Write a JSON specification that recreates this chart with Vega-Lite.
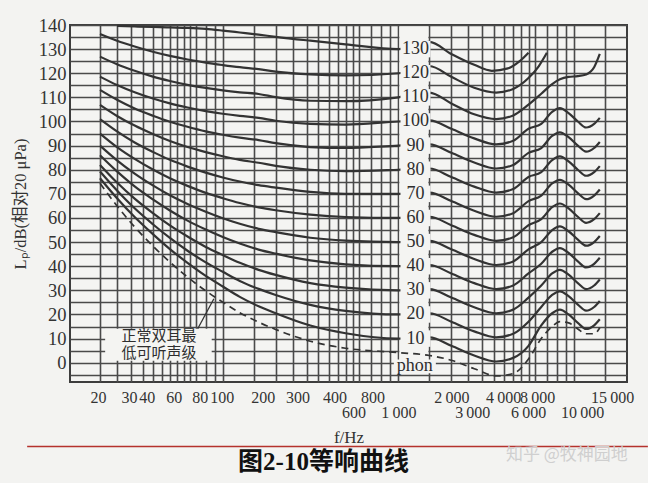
{
  "$schema": "https://vega.github.io/schema/vega-lite/v6.json",
  "width": 557,
  "height": 357,
  "autosize": "none",
  "padding": {"left": 70, "top": 25, "right": 21, "bottom": 101},
  "background": "#f3f3f1",
  "view": {"fill": "#f4f4f2", "stroke": "#3d3d3d", "strokeWidth": 2},
  "title": {
    "text": "图2-10等响曲线",
    "orient": "bottom",
    "anchor": "middle",
    "dx": -25,
    "offset": -13,
    "font": "Liberation Serif, Noto Sans CJK SC",
    "fontSize": 25,
    "fontWeight": "bold",
    "color": "#111"
  },
  "datasets": {
    "anchor": [{"f": 1000, "db": 50}],
    "curves": [
      {"phon":10,"f":20,"db":76.5},{"phon":10,"f":25,"db":68.2},{"phon":10,"f":31.5,"db":60.4},{"phon":10,"f":40,"db":53.3},{"phon":10,"f":50,"db":47.1},{"phon":10,"f":63,"db":41.4},{"phon":10,"f":80,"db":36},{"phon":10,"f":100,"db":31.6},{"phon":10,"f":125,"db":27.3},{"phon":10,"f":160,"db":23.4},{"phon":10,"f":200,"db":20.5},{"phon":10,"f":315,"db":15.4},{"phon":10,"f":500,"db":12.2},{"phon":10,"f":1000,"db":10},
      {"phon":10,"f":1500,"db":10.5},{"phon":10,"f":2000,"db":7},{"phon":10,"f":2700,"db":3},{"phon":10,"f":3600,"db":0.5},{"phon":10,"f":4500,"db":2},{"phon":10,"f":5500,"db":7},{"phon":10,"f":6500,"db":15.5},{"phon":10,"f":7500,"db":20.5},{"phon":10,"f":8300,"db":22},{"phon":10,"f":9300,"db":20},{"phon":10,"f":10500,"db":16.5},{"phon":10,"f":11700,"db":14},{"phon":10,"f":13000,"db":15.5},{"phon":10,"f":14000,"db":18},

      {"phon":20,"f":20,"db":79.3},{"phon":20,"f":25,"db":71.4},{"phon":20,"f":31.5,"db":64},{"phon":20,"f":40,"db":57.4},{"phon":20,"f":50,"db":51.7},{"phon":20,"f":63,"db":46.4},{"phon":20,"f":80,"db":41.6},{"phon":20,"f":100,"db":37.7},{"phon":20,"f":125,"db":33.9},{"phon":20,"f":160,"db":30.6},{"phon":20,"f":200,"db":28.1},{"phon":20,"f":315,"db":24},{"phon":20,"f":500,"db":21.5},{"phon":20,"f":1000,"db":20},
      {"phon":20,"f":1500,"db":20.5},{"phon":20,"f":2000,"db":17},{"phon":20,"f":2700,"db":13},{"phon":20,"f":3600,"db":10.5},{"phon":20,"f":4500,"db":12},{"phon":20,"f":5500,"db":17},{"phon":20,"f":6500,"db":23.1},{"phon":20,"f":7500,"db":28.1},{"phon":20,"f":8300,"db":29.6},{"phon":20,"f":9300,"db":27.6},{"phon":20,"f":10500,"db":24.1},{"phon":20,"f":11700,"db":21.6},{"phon":20,"f":13000,"db":23.1},{"phon":20,"f":14000,"db":25.6},

      {"phon":30,"f":20,"db":82},{"phon":30,"f":25,"db":74.7},{"phon":30,"f":31.5,"db":68},{"phon":30,"f":40,"db":62},{"phon":30,"f":50,"db":56.9},{"phon":30,"f":63,"db":52.3},{"phon":30,"f":80,"db":48},{"phon":30,"f":100,"db":44.6},{"phon":30,"f":125,"db":41.4},{"phon":30,"f":160,"db":38.5},{"phon":30,"f":200,"db":36.4},{"phon":30,"f":315,"db":33},{"phon":30,"f":500,"db":31.1},{"phon":30,"f":1000,"db":30},
      {"phon":30,"f":1500,"db":30.5},{"phon":30,"f":2000,"db":27},{"phon":30,"f":2700,"db":23},{"phon":30,"f":3600,"db":20.5},{"phon":30,"f":4500,"db":22},{"phon":30,"f":5500,"db":27},{"phon":30,"f":6500,"db":32},{"phon":30,"f":7500,"db":37},{"phon":30,"f":8300,"db":38.5},{"phon":30,"f":9300,"db":36.5},{"phon":30,"f":10500,"db":33},{"phon":30,"f":11700,"db":30.5},{"phon":30,"f":13000,"db":32},{"phon":30,"f":14000,"db":34.5},

      {"phon":40,"f":20,"db":86},{"phon":40,"f":25,"db":79.3},{"phon":40,"f":31.5,"db":73.1},{"phon":40,"f":40,"db":67.7},{"phon":40,"f":50,"db":63.1},{"phon":40,"f":63,"db":58.9},{"phon":40,"f":80,"db":55.2},{"phon":40,"f":100,"db":52.1},{"phon":40,"f":125,"db":49.4},{"phon":40,"f":160,"db":46.9},{"phon":40,"f":200,"db":45.2},{"phon":40,"f":315,"db":42.4},{"phon":40,"f":500,"db":40.8},{"phon":40,"f":1000,"db":40},
      {"phon":40,"f":1500,"db":40.5},{"phon":40,"f":2000,"db":37},{"phon":40,"f":2700,"db":33},{"phon":40,"f":3600,"db":30.5},{"phon":40,"f":4500,"db":32},{"phon":40,"f":5500,"db":37},{"phon":40,"f":6500,"db":41},{"phon":40,"f":7500,"db":46},{"phon":40,"f":8300,"db":47.5},{"phon":40,"f":9300,"db":45.5},{"phon":40,"f":10500,"db":42},{"phon":40,"f":11700,"db":39.5},{"phon":40,"f":13000,"db":41},{"phon":40,"f":14000,"db":43.5},

      {"phon":50,"f":20,"db":90},{"phon":50,"f":25,"db":83.9},{"phon":50,"f":31.5,"db":78.4},{"phon":50,"f":40,"db":73.5},{"phon":50,"f":50,"db":69.4},{"phon":50,"f":63,"db":65.8},{"phon":50,"f":80,"db":62.6},{"phon":50,"f":100,"db":59.9},{"phon":50,"f":125,"db":57.6},{"phon":50,"f":160,"db":55.5},{"phon":50,"f":200,"db":54.1},{"phon":50,"f":315,"db":51.8},{"phon":50,"f":500,"db":50.6},{"phon":50,"f":1000,"db":50},
      {"phon":50,"f":1500,"db":50.5},{"phon":50,"f":2000,"db":47},{"phon":50,"f":2700,"db":43},{"phon":50,"f":3600,"db":40.5},{"phon":50,"f":4500,"db":42},{"phon":50,"f":5500,"db":47},{"phon":50,"f":6500,"db":50},{"phon":50,"f":7500,"db":55},{"phon":50,"f":8300,"db":56.5},{"phon":50,"f":9300,"db":54.5},{"phon":50,"f":10500,"db":51},{"phon":50,"f":11700,"db":48.5},{"phon":50,"f":13000,"db":50},{"phon":50,"f":14000,"db":52.5},

      {"phon":60,"f":20,"db":95},{"phon":60,"f":25,"db":89.4},{"phon":60,"f":31.5,"db":84.5},{"phon":60,"f":40,"db":80.1},{"phon":60,"f":50,"db":76.5},{"phon":60,"f":63,"db":73.3},{"phon":60,"f":80,"db":70.4},{"phon":60,"f":100,"db":68.2},{"phon":60,"f":125,"db":66.2},{"phon":60,"f":160,"db":64.4},{"phon":60,"f":200,"db":63.2},{"phon":60,"f":315,"db":61.4},{"phon":60,"f":500,"db":60.4},{"phon":60,"f":1000,"db":60},
      {"phon":60,"f":1500,"db":60.5},{"phon":60,"f":2000,"db":57},{"phon":60,"f":2700,"db":53},{"phon":60,"f":3600,"db":50.5},{"phon":60,"f":4500,"db":52},{"phon":60,"f":5500,"db":57},{"phon":60,"f":6500,"db":59.5},{"phon":60,"f":7500,"db":64.5},{"phon":60,"f":8300,"db":66},{"phon":60,"f":9300,"db":64},{"phon":60,"f":10500,"db":60.5},{"phon":60,"f":11700,"db":58},{"phon":60,"f":13000,"db":59.5},{"phon":60,"f":14000,"db":62},

      {"phon":70,"f":20,"db":101},{"phon":70,"f":25,"db":95.9},{"phon":70,"f":31.5,"db":91.3},{"phon":70,"f":40,"db":87.4},{"phon":70,"f":50,"db":84.1},{"phon":70,"f":63,"db":81.3},{"phon":70,"f":80,"db":78.8},{"phon":70,"f":100,"db":76.8},{"phon":70,"f":125,"db":75.1},{"phon":70,"f":160,"db":73.6},{"phon":70,"f":200,"db":72.6},{"phon":70,"f":315,"db":70.8},{"phon":70,"f":500,"db":70},{"phon":70,"f":1000,"db":70},
      {"phon":70,"f":1500,"db":70.5},{"phon":70,"f":2000,"db":67},{"phon":70,"f":2700,"db":63},{"phon":70,"f":3600,"db":60.5},{"phon":70,"f":4500,"db":62},{"phon":70,"f":5500,"db":67},{"phon":70,"f":6500,"db":69.3},{"phon":70,"f":7500,"db":74.3},{"phon":70,"f":8300,"db":75.8},{"phon":70,"f":9300,"db":73.8},{"phon":70,"f":10500,"db":70.3},{"phon":70,"f":11700,"db":67.8},{"phon":70,"f":13000,"db":69.3},{"phon":70,"f":14000,"db":71.8},

      {"phon":80,"f":20,"db":106.9},{"phon":80,"f":25,"db":102.3},{"phon":80,"f":31.5,"db":98.3},{"phon":80,"f":40,"db":94.8},{"phon":80,"f":50,"db":91.9},{"phon":80,"f":63,"db":89.4},{"phon":80,"f":80,"db":87.3},{"phon":80,"f":100,"db":85.6},{"phon":80,"f":125,"db":84.1},{"phon":80,"f":160,"db":82.9},{"phon":80,"f":200,"db":81.6},{"phon":80,"f":315,"db":80},{"phon":80,"f":500,"db":79.4},{"phon":80,"f":1000,"db":80},
      {"phon":80,"f":1500,"db":80.5},{"phon":80,"f":2000,"db":77},{"phon":80,"f":2700,"db":73},{"phon":80,"f":3600,"db":70.5},{"phon":80,"f":4500,"db":72},{"phon":80,"f":5500,"db":77},{"phon":80,"f":6500,"db":79},{"phon":80,"f":7500,"db":84},{"phon":80,"f":8300,"db":85.5},{"phon":80,"f":9300,"db":83.5},{"phon":80,"f":10500,"db":80},{"phon":80,"f":11700,"db":77.5},{"phon":80,"f":13000,"db":79},{"phon":80,"f":14000,"db":81.5},

      {"phon":90,"f":20,"db":113.1},{"phon":90,"f":25,"db":109},{"phon":90,"f":31.5,"db":105.4},{"phon":90,"f":40,"db":102.4},{"phon":90,"f":50,"db":99.9},{"phon":90,"f":63,"db":97.8},{"phon":90,"f":80,"db":95.9},{"phon":90,"f":100,"db":94.5},{"phon":90,"f":125,"db":93.3},{"phon":90,"f":160,"db":92.3},{"phon":90,"f":200,"db":91},{"phon":90,"f":315,"db":89.4},{"phon":90,"f":500,"db":89},{"phon":90,"f":1000,"db":90},
      {"phon":90,"f":1500,"db":90.5},{"phon":90,"f":2000,"db":87},{"phon":90,"f":2700,"db":83},{"phon":90,"f":3600,"db":80.5},{"phon":90,"f":4500,"db":82},{"phon":90,"f":5500,"db":87},{"phon":90,"f":6500,"db":89},{"phon":90,"f":7500,"db":94},{"phon":90,"f":8300,"db":95.5},{"phon":90,"f":9300,"db":93.5},{"phon":90,"f":10500,"db":90},{"phon":90,"f":11700,"db":87.5},{"phon":90,"f":13000,"db":89},{"phon":90,"f":14000,"db":91.5},

      {"phon":100,"f":20,"db":118.6},{"phon":100,"f":25,"db":115.1},{"phon":100,"f":31.5,"db":112.1},{"phon":100,"f":40,"db":109.5},{"phon":100,"f":50,"db":107.5},{"phon":100,"f":63,"db":105.8},{"phon":100,"f":80,"db":104.3},{"phon":100,"f":100,"db":103.2},{"phon":100,"f":125,"db":102.3},{"phon":100,"f":160,"db":101.5},{"phon":100,"f":200,"db":100.3},{"phon":100,"f":315,"db":99},{"phon":100,"f":500,"db":98.7},{"phon":100,"f":1000,"db":100},
      {"phon":100,"f":1500,"db":100.5},{"phon":100,"f":2000,"db":97},{"phon":100,"f":2700,"db":93},{"phon":100,"f":3600,"db":90.5},{"phon":100,"f":4500,"db":92},{"phon":100,"f":5500,"db":97},{"phon":100,"f":6500,"db":99},{"phon":100,"f":7500,"db":104},{"phon":100,"f":8300,"db":105.5},{"phon":100,"f":9300,"db":103.5},{"phon":100,"f":10500,"db":100},{"phon":100,"f":11700,"db":97.5},{"phon":100,"f":13000,"db":99},{"phon":100,"f":14000,"db":101.5},

      {"phon":110,"f":20,"db":126.9},{"phon":110,"f":25,"db":123.7},{"phon":110,"f":31.5,"db":121},{"phon":110,"f":40,"db":118.6},{"phon":110,"f":50,"db":116.8},{"phon":110,"f":63,"db":115.2},{"phon":110,"f":80,"db":113.9},{"phon":110,"f":100,"db":112.9},{"phon":110,"f":125,"db":112.1},{"phon":110,"f":160,"db":111.4},{"phon":110,"f":200,"db":110.1},{"phon":110,"f":315,"db":108.6},{"phon":110,"f":500,"db":108.4},{"phon":110,"f":1000,"db":110},
      {"phon":110,"f":1500,"db":112},{"phon":110,"f":2000,"db":107.5},{"phon":110,"f":2700,"db":103},{"phon":110,"f":3600,"db":101},{"phon":110,"f":4500,"db":102.5},{"phon":110,"f":5500,"db":107},{"phon":110,"f":6500,"db":111.5},{"phon":110,"f":7500,"db":115.5},{"phon":110,"f":8300,"db":117.5},{"phon":110,"f":9300,"db":118.5},{"phon":110,"f":10500,"db":118.8},{"phon":110,"f":11700,"db":119.5},{"phon":110,"f":13000,"db":122.5},{"phon":110,"f":14000,"db":128},

      {"phon":120,"f":20,"db":136.3},{"phon":120,"f":25,"db":133.5},{"phon":120,"f":31.5,"db":131.1},{"phon":120,"f":40,"db":128.9},{"phon":120,"f":50,"db":127.2},{"phon":120,"f":63,"db":125.7},{"phon":120,"f":80,"db":124.4},{"phon":120,"f":100,"db":123.4},{"phon":120,"f":125,"db":122.5},{"phon":120,"f":160,"db":121.7},{"phon":120,"f":200,"db":120.7},{"phon":120,"f":315,"db":119.5},{"phon":120,"f":500,"db":119.1},{"phon":120,"f":1000,"db":120},
      {"phon":120,"f":1500,"db":123},{"phon":120,"f":2000,"db":118.5},{"phon":120,"f":2700,"db":114},{"phon":120,"f":3600,"db":112},{"phon":120,"f":4500,"db":113.5},{"phon":120,"f":5500,"db":118},{"phon":120,"f":6300,"db":123},{"phon":120,"f":7000,"db":128.5},

      {"phon":130,"f":25,"db":139.6},{"phon":130,"f":31.5,"db":139.4},{"phon":130,"f":40,"db":139.2},{"phon":130,"f":50,"db":139},{"phon":130,"f":63,"db":138.8},{"phon":130,"f":80,"db":138.4},{"phon":130,"f":100,"db":137.7},{"phon":130,"f":125,"db":136.9},{"phon":130,"f":160,"db":136},{"phon":130,"f":200,"db":135.1},{"phon":130,"f":315,"db":133.5},{"phon":130,"f":500,"db":132},{"phon":130,"f":1000,"db":130},
      {"phon":130,"f":1500,"db":133},{"phon":130,"f":2000,"db":128},{"phon":130,"f":2700,"db":123.5},{"phon":130,"f":3400,"db":121},{"phon":130,"f":4200,"db":122},{"phon":130,"f":4900,"db":125},{"phon":130,"f":5500,"db":128.5}
    ],
    "threshold": [
      {"f":20,"db":74.4},{"f":25,"db":65},{"f":31.5,"db":56.3},{"f":40,"db":48.4},{"f":50,"db":41.7},{"f":63,"db":35.5},{"f":80,"db":29.8},{"f":100,"db":25.1},{"f":125,"db":20.7},{"f":160,"db":16.8},{"f":200,"db":13.8},{"f":315,"db":8.9},{"f":500,"db":6},{"f":1000,"db":4.2},
      {"f":1500,"db":3},{"f":2000,"db":1},{"f":2700,"db":-2.5},{"f":3600,"db":-5.5},{"f":4500,"db":-4.5},{"f":5500,"db":1.5},{"f":6500,"db":10},{"f":7500,"db":15},{"f":8300,"db":17},{"f":9300,"db":16.5},{"f":10500,"db":14},{"f":11700,"db":12},{"f":13000,"db":12},{"f":14000,"db":14.5}
    ],
    "labels": [
      {"f":1250,"db":130,"t":"130"},{"f":1250,"db":120,"t":"120"},{"f":1250,"db":110,"t":"110"},{"f":1250,"db":100,"t":"100"},
      {"f":1250,"db":90,"t":"90"},{"f":1250,"db":80,"t":"80"},{"f":1250,"db":70,"t":"70"},{"f":1250,"db":60,"t":"60"},
      {"f":1250,"db":50,"t":"50"},{"f":1250,"db":40,"t":"40"},{"f":1250,"db":30,"t":"30"},{"f":1250,"db":20,"t":"20"},
      {"f":1250,"db":10,"t":"10"},{"f":1240,"db":-1.5,"t":"phon"}
    ],
    "note": [
      {"f":43.4,"db":11.1,"t":"正常双耳最"},
      {"f":43.4,"db":3.9,"t":"低可听声级"}
    ],
    "watermark": [
      {"f":9100,"db":-38.1,"t":"知乎 @牧神园地"}
    ]
  },
  "encoding": {
    "x": {
      "field": "f",
      "type": "quantitative",
      "scale": {"type": "log", "domain": [13.5, 20000], "nice": false},
      "axis": {
        "values": [20,25,30,35,40,45,50,55,60,65,70,80,90,100,150,200,250,300,350,400,450,500,550,600,700,800,900,1000,1500,2000,2500,3000,3500,4000,4500,5000,5500,6000,7000,8000,9000,10000,15000],
        "labelExpr": "indexof([20,30,40,60,80,100,200,300,400,600,800,1000,2000,3000,4000,6000,8000,10000,15000], datum.value) >= 0 ? replace(format(datum.value, ','), ',', '\u2009') : ''",
        "labelFontSize": 16,
        "labelPadding": 7,
        "labelOverlap": false,
        "labelFlush": false,
        "labelBound": false,
        "title": "f/Hz",
        "titleFontSize": 17,
        "titleY": 55,
        "titleBaseline": "middle",
        "encoding": {
          "labels": {
            "dx": {"value": {"expr": "datum.value==20?-2:datum.value==30?-2:datum.value==40?-6:datum.value==60?-10:datum.value==80?-6:datum.value==100?-1:datum.value==200?-13:datum.value==300?-9:datum.value==400?6:datum.value==600?-6:datum.value==800?-9:datum.value==3000?-10:datum.value==4000?-1:datum.value==6000?-7:datum.value==8000?-20:datum.value==10000?8:datum.value==15000?7:0"}},
            "dy": {"value": {"expr": "indexof([600,1000,3000,6000,10000], datum.value) >= 0 ? 15 : 0"}}
          }
        }
      }
    },
    "y": {
      "field": "db",
      "type": "quantitative",
      "scale": {"domain": [-8, 140], "nice": false, "zero": false},
      "axis": {
        "values": [-5,0,5,10,15,20,25,30,35,40,45,50,55,60,65,70,75,80,85,90,95,100,105,110,115,120,125,130,135,140],
        "labelExpr": "datum.value >= 0 && datum.value % 10 == 0 ? datum.value : ''",
        "labelFontSize": 18.5,
        "labelPadding": 4,
        "labelOverlap": false,
        "labelBound": false,
        "labelFlush": false,
        "title": "Lₚ/dB(相对20 μPa)",
        "titleFontSize": 16.5,
        "titleX": -50,
        "titleY": 178.5,
        "titleAngle": 270,
        "titleAlign": "center",
        "titleBaseline": "middle"
      }
    }
  },
  "layer": [
    {
      "data": {"name": "anchor"},
      "mark": {"type": "rect", "color": "#f4f4f2", "opacity": 1},
      "encoding": {
        "x": {"datum": 1012, "type": "quantitative"},
        "x2": {"datum": 1480},
        "y": {"datum": -4, "type": "quantitative"},
        "y2": {"datum": 139.4}
      }
    },
    {
      "data": {"name": "anchor"},
      "mark": {"type": "rect", "color": "#f4f4f2", "opacity": 1},
      "encoding": {
        "x": {"datum": 21.4, "type": "quantitative"},
        "x2": {"datum": 86.5},
        "y": {"datum": 0.8, "type": "quantitative"},
        "y2": {"datum": 14.1}
      }
    },
    {
      "data": {"name": "curves"},
      "mark": {"type": "line", "interpolate": "monotone", "color": "#333333", "strokeWidth": 2.2},
      "encoding": {"detail": {"field": "phon", "type": "nominal"}}
    },
    {
      "data": {"name": "threshold"},
      "mark": {"type": "line", "interpolate": "monotone", "color": "#333333", "strokeWidth": 1.7, "strokeDash": [7, 5]},
      "encoding": {}
    },
    {
      "data": {"name": "anchor"},
      "mark": {"type": "rule", "color": "#333333", "strokeWidth": 1.3},
      "encoding": {
        "x": {"datum": 72, "type": "quantitative"},
        "y": {"datum": 14.1, "type": "quantitative"},
        "x2": {"datum": 89},
        "y2": {"datum": 26.5}
      }
    },
    {
      "data": {"name": "labels"},
      "mark": {"type": "point", "filled": true, "color": "#f4f4f2", "opacity": 1},
      "encoding": {
        "shape": {"condition": {"test": "datum.t == 'phon'", "value": "M-1,-0.33L1,-0.33L1,0.33L-1,0.33Z"}, "value": "M-1,-0.55L1,-0.55L1,0.55L-1,0.55Z"},
        "size": {"condition": {"test": "datum.t == 'phon'", "value": 1764}, "value": 900}
      }
    },
    {
      "data": {"name": "labels"},
      "mark": {"type": "text", "font": "Liberation Serif", "fontSize": 18, "color": "#2e2e2e"},
      "encoding": {"text": {"field": "t", "type": "nominal"}}
    },
    {
      "data": {"name": "note"},
      "mark": {"type": "text", "font": "Noto Sans CJK SC", "fontSize": 15, "color": "#2e2e2e"},
      "encoding": {"text": {"field": "t", "type": "nominal"}}
    },
    {
      "data": {"name": "anchor"},
      "mark": {"type": "rule", "color": "#b5322d", "strokeWidth": 1.5},
      "encoding": {
        "x": {"datum": 7.7, "type": "quantitative"},
        "x2": {"datum": 26300},
        "y": {"datum": -34.7, "type": "quantitative"}
      }
    },
    {
      "data": {"name": "watermark"},
      "mark": {"type": "text", "font": "Noto Sans CJK SC", "fontSize": 17, "color": "#cfcfcf"},
      "encoding": {"text": {"field": "t", "type": "nominal"}}
    }
  ],
  "config": {
    "axis": {
      "domain": false,
      "ticks": false,
      "gridColor": "#4a4a4a",
      "gridWidth": 1.6,
      "gridOpacity": 1,
      "labelFont": "Liberation Serif",
      "labelColor": "#333333",
      "titleFont": "Liberation Serif, Noto Sans CJK SC",
      "titleColor": "#333333",
      "titleFontWeight": "normal"
    }
  }
}
